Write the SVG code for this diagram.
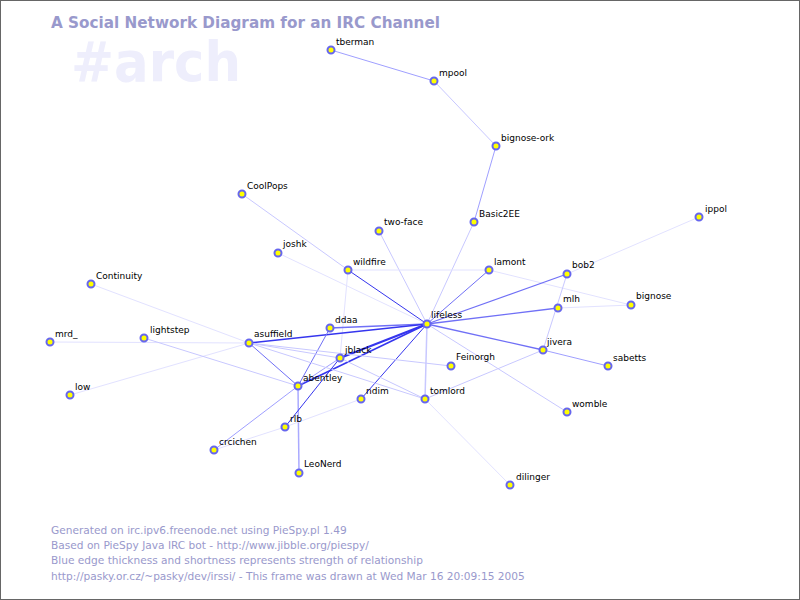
<svg xmlns="http://www.w3.org/2000/svg" width="800" height="600" viewBox="0 0 800 600">
<style>
.bg{fill:#ffffff;stroke:#666666;stroke-width:2}
.title{font-family:"DejaVu Sans","Liberation Sans",sans-serif;font-weight:bold;font-size:16px;fill:#9999cc}
.chan{font-family:"DejaVu Sans","Liberation Sans",sans-serif;font-weight:bold;font-size:56px;fill:#eeeefc}
.foot{font-family:"DejaVu Sans","Liberation Sans",sans-serif;font-size:10.6px;fill:#9999cc}
.lbl{font-family:"DejaVu Sans","Liberation Sans",sans-serif;font-size:9px;fill:#000000}
.n circle{fill:#ffff00;stroke:#6666ee;stroke-width:2}
.e1{stroke:#e2e2ff;stroke-width:1;fill:none}
.e2{stroke:#c8c8ff;stroke-width:1;fill:none}
.e3{stroke:#9f9fff;stroke-width:1;fill:none}
.e4{stroke:#7070f6;stroke-width:1.3;fill:none}
.e5{stroke:#3535ee;stroke-width:1;fill:none}
.e6{stroke:#3535ee;stroke-width:1.6;fill:none}
</style>
<rect class="bg" x="0" y="0" width="800" height="600"/>
<text class="chan" x="71" y="81" textLength="170" lengthAdjust="spacingAndGlyphs">#arch</text>
<text class="title" x="51" y="28" textLength="389" lengthAdjust="spacingAndGlyphs">A Social Network Diagram for an IRC Channel</text>
<g id="edges">
<line class="e3" x1="331" y1="50" x2="434" y2="81"/>
<line class="e2" x1="434" y1="81" x2="496" y2="146"/>
<line class="e3" x1="496" y1="146" x2="474" y2="222"/>
<line class="e2" x1="474" y1="222" x2="427" y2="324"/>
<line class="e2" x1="379" y1="231" x2="427" y2="324"/>
<line class="e2" x1="242" y1="194" x2="348" y2="270"/>
<line class="e1" x1="278" y1="253" x2="427" y2="324"/>
<line class="e5" x1="348" y1="270" x2="427" y2="324"/>
<line class="e1" x1="348" y1="270" x2="489" y2="270"/>
<line class="e1" x1="348" y1="270" x2="340" y2="358"/>
<line class="e1" x1="489" y1="270" x2="631" y2="305"/>
<line class="e4" x1="489" y1="270" x2="427" y2="324" style="stroke-width:1"/>
<line class="e1" x1="567" y1="274" x2="699" y2="217"/>
<line class="e4" x1="567" y1="274" x2="427" y2="324"/>
<line class="e2" x1="567" y1="274" x2="543" y2="350"/>
<line class="e1" x1="558" y1="308" x2="631" y2="305"/>
<line class="e4" x1="558" y1="308" x2="427" y2="324"/>
<line class="e4" x1="543" y1="350" x2="427" y2="324"/>
<line class="e3" x1="543" y1="350" x2="608" y2="366"/>
<line class="e2" x1="543" y1="350" x2="425" y2="399"/>
<line class="e2" x1="427" y1="324" x2="567" y2="412"/>
<line class="e2" x1="427" y1="324" x2="425" y2="399" style="stroke-width:1.5"/>
<line class="e5" x1="427" y1="324" x2="361" y2="399"/>
<line class="e1" x1="425" y1="399" x2="510" y2="485"/>
<line class="e4" x1="330" y1="328" x2="427" y2="324"/>
<line class="e6" x1="249" y1="343" x2="427" y2="324"/>
<line class="e6" x1="340" y1="358" x2="427" y2="324" style="stroke-width:2"/>
<line class="e6" x1="298" y1="386" x2="427" y2="324"/>
<line class="e3" x1="298" y1="386" x2="340" y2="358"/>
<line class="e4" x1="330" y1="328" x2="298" y2="386" style="stroke-width:1"/>
<line class="e4" x1="249" y1="343" x2="298" y2="386" style="stroke-width:1"/>
<line class="e2" x1="249" y1="343" x2="451" y2="366"/>
<line class="e2" x1="249" y1="343" x2="425" y2="399"/>
<line class="e2" x1="249" y1="343" x2="340" y2="358"/>
<line class="e2" x1="340" y1="358" x2="425" y2="399"/>
<line class="e1" x1="91" y1="284" x2="249" y2="343"/>
<line class="e1" x1="50" y1="342" x2="249" y2="343"/>
<line class="e1" x1="70" y1="395" x2="249" y2="343"/>
<line class="e2" x1="144" y1="338" x2="298" y2="386"/>
<line class="e3" x1="298" y1="386" x2="214" y2="450"/>
<line class="e3" x1="298" y1="386" x2="299" y2="473" style="stroke-width:1.5;stroke:#aaaaff"/>
<line class="e5" x1="285" y1="427" x2="340" y2="358"/>
<line class="e1" x1="285" y1="427" x2="361" y2="399"/>
<line class="e1" x1="214" y1="450" x2="285" y2="427"/>
</g>
<g id="node-tberman" class="n"><circle cx="331" cy="50" r="3.5"/><text class="lbl" x="336" y="45">tberman</text></g>
<g id="node-mpool" class="n"><circle cx="434" cy="81" r="3.5"/><text class="lbl" x="439" y="76">mpool</text></g>
<g id="node-bignose-ork" class="n"><circle cx="496" cy="146" r="3.5"/><text class="lbl" x="501" y="141">bignose-ork</text></g>
<g id="node-Basic2EE" class="n"><circle cx="474" cy="222" r="3.5"/><text class="lbl" x="479" y="217">Basic2EE</text></g>
<g id="node-two-face" class="n"><circle cx="379" cy="231" r="3.5"/><text class="lbl" x="384" y="225">two-face</text></g>
<g id="node-CoolPops" class="n"><circle cx="242" cy="194" r="3.5"/><text class="lbl" x="247" y="189">CoolPops</text></g>
<g id="node-joshk" class="n"><circle cx="278" cy="253" r="3.5"/><text class="lbl" x="283" y="247">joshk</text></g>
<g id="node-wildfire" class="n"><circle cx="348" cy="270" r="3.5"/><text class="lbl" x="353" y="265">wildfire</text></g>
<g id="node-lamont" class="n"><circle cx="489" cy="270" r="3.5"/><text class="lbl" x="494" y="265">lamont</text></g>
<g id="node-bob2" class="n"><circle cx="567" cy="274" r="3.5"/><text class="lbl" x="572" y="268">bob2</text></g>
<g id="node-ippol" class="n"><circle cx="699" cy="217" r="3.5"/><text class="lbl" x="705" y="212">ippol</text></g>
<g id="node-bignose" class="n"><circle cx="631" cy="305" r="3.5"/><text class="lbl" x="636" y="299">bignose</text></g>
<g id="node-mlh" class="n"><circle cx="558" cy="308" r="3.5"/><text class="lbl" x="563" y="302">mlh</text></g>
<g id="node-lifeless" class="n"><circle cx="427" cy="324" r="3.5"/><text class="lbl" x="431" y="318">lifeless</text></g>
<g id="node-jivera" class="n"><circle cx="543" cy="350" r="3.5"/><text class="lbl" x="547" y="345">jivera</text></g>
<g id="node-sabetts" class="n"><circle cx="608" cy="366" r="3.5"/><text class="lbl" x="613" y="361">sabetts</text></g>
<g id="node-Feinorgh" class="n"><circle cx="451" cy="366" r="3.5"/><text class="lbl" x="456" y="360">Feinorgh</text></g>
<g id="node-womble" class="n"><circle cx="567" cy="412" r="3.5"/><text class="lbl" x="572" y="407">womble</text></g>
<g id="node-dilinger" class="n"><circle cx="510" cy="485" r="3.5"/><text class="lbl" x="516" y="480">dilinger</text></g>
<g id="node-tomlord" class="n"><circle cx="425" cy="399" r="3.5"/><text class="lbl" x="430" y="394">tomlord</text></g>
<g id="node-ndim" class="n"><circle cx="361" cy="399" r="3.5"/><text class="lbl" x="366" y="394">ndim</text></g>
<g id="node-ddaa" class="n"><circle cx="330" cy="328" r="3.5"/><text class="lbl" x="335" y="323">ddaa</text></g>
<g id="node-jblack" class="n"><circle cx="340" cy="358" r="3.5"/><text class="lbl" x="345" y="353">jblack</text></g>
<g id="node-asuffield" class="n"><circle cx="249" cy="343" r="3.5"/><text class="lbl" x="254" y="337">asuffield</text></g>
<g id="node-abentley" class="n"><circle cx="298" cy="386" r="3.5"/><text class="lbl" x="303" y="381">abentley</text></g>
<g id="node-rlb" class="n"><circle cx="285" cy="427" r="3.5"/><text class="lbl" x="290" y="422">rlb</text></g>
<g id="node-crcichen" class="n"><circle cx="214" cy="450" r="3.5"/><text class="lbl" x="219" y="445">crcichen</text></g>
<g id="node-LeoNerd" class="n"><circle cx="299" cy="473" r="3.5"/><text class="lbl" x="304" y="467">LeoNerd</text></g>
<g id="node-lightstep" class="n"><circle cx="144" cy="338" r="3.5"/><text class="lbl" x="150" y="333">lightstep</text></g>
<g id="node-mrd_" class="n"><circle cx="50" cy="342" r="3.5"/><text class="lbl" x="55" y="337">mrd_</text></g>
<g id="node-low" class="n"><circle cx="70" cy="395" r="3.5"/><text class="lbl" x="75" y="390">low</text></g>
<g id="node-Continuity" class="n"><circle cx="91" cy="284" r="3.5"/><text class="lbl" x="96" y="279">Continuity</text></g>
<text class="foot" x="51" y="534">Generated on irc.ipv6.freenode.net using PieSpy.pl 1.49</text>
<text class="foot" x="51" y="549">Based on PieSpy Java IRC bot - http://www.jibble.org/piespy/</text>
<text class="foot" x="51" y="564">Blue edge thickness and shortness represents strength of relationship</text>
<text class="foot" x="51" y="580">http://pasky.or.cz/~pasky/dev/irssi/ - This frame was drawn at Wed Mar 16 20:09:15 2005</text>
</svg>
